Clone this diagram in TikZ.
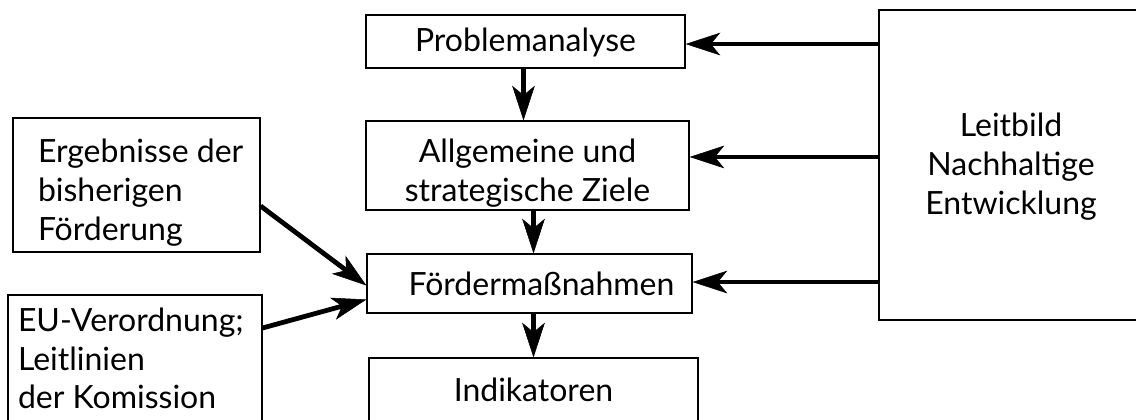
\documentclass[tikz,border=0pt]{standalone}
\usepackage{fontspec}
\setmainfont{Lato}
\usetikzlibrary{arrows.meta}
\tikzset{
  box/.style={draw=black, line width=0.9pt, inner sep=0pt, align=center,
    font=\fontsize{24}{29}\selectfont},
  arr/.style={line width=3.6pt, -{Stealth[length=26pt, width=17pt, inset=7pt, line width=0.4pt]}},
}
\newcommand{\lefttext}[3]{\makebox[#1][l]{\hspace*{#2}\begin{tabular}{@{}l@{}}#3\end{tabular}}}
\newcommand{\lowertext}[2]{\raisebox{#1}[0pt][0pt]{\begin{tabular}{@{}c@{}}#2\end{tabular}}}
\begin{document}
\begin{tikzpicture}[x=0.75pt, y=-0.75pt]
\fill[white] (0,0) rectangle (1136,419);
\useasboundingbox (0,0) rectangle (1136,419);
\clip (0,0) rectangle (1136,419);
\node[box, minimum width=239.25pt, minimum height=39.75pt] (pa) at (525.5,41.5) {\lowertext{-8pt}{Problemanalyse}};
\node[box, minimum width=242.25pt, minimum height=66.75pt] (az) at (527.5,165.5) {\lowertext{-12.75pt}{Allgemeine und\\strategische Ziele}};
\node[box, minimum width=243.75pt, minimum height=44.25pt] (fd) at (529.5,283.5) {\hspace*{18pt}Fördermaßnahmen};
\node[box, minimum width=246.75pt, minimum height=47.25pt] (ind) at (533.5,389.5) {Indikatoren};
\node[box, minimum width=198pt, minimum height=232.5pt] (leit) at (1011,165) {\lowertext{-8.25pt}{Leitbild\\Nachhaltige\\Entwicklung}};
\node[box, minimum width=185.25pt, minimum height=100.5pt] (erg) at (136.5,185)
  {\raisebox{-12.75pt}[0pt][0pt]{\lefttext{185.25pt}{18.75pt}{Ergebnisse der\\bisherigen\\Förderung}}};
\node[box, minimum width=190.5pt, minimum height=101.25pt] (eu) at (135,362.5)
  {\lefttext{190.5pt}{7.5pt}{EU-Verordnung;\\Leitlinien\\der Komission}};
% arrow end points on box edges
\coordinate (pae) at ([yshift=-1.9pt]pa.east);
\coordinate (aze) at ([yshift=6.4pt]az.east);
\coordinate (fde) at ([yshift=1.1pt]fd.east);
\coordinate (fdw1) at ([yshift=-1.5pt]fd.west);
\coordinate (fdw2) at ([yshift=-12pt]fd.west);
\coordinate (erge) at ([yshift=-15.75pt]erg.east);
\coordinate (eue) at ([yshift=25.9pt]eu.east);
\coordinate (pas) at ([xshift=-1.5pt]pa.south);
% vertical arrows
\draw[arr] (pas) -- (pas |- az.north);
\draw[arr] (az.south -| ind.north) -- (fd.north -| ind.north);
\draw[arr] (fd.south -| ind.north) -- (ind.north);
% from Leitbild
\draw[arr] (leit.west |- pae) -- (pae);
\draw[arr] (leit.west |- aze) -- (aze);
\draw[arr] (leit.west |- fde) -- (fde);
% from left
\draw[arr] (erge) -- (fdw1);
\draw[arr] (eue) -- (fdw2);
\end{tikzpicture}
\end{document}
